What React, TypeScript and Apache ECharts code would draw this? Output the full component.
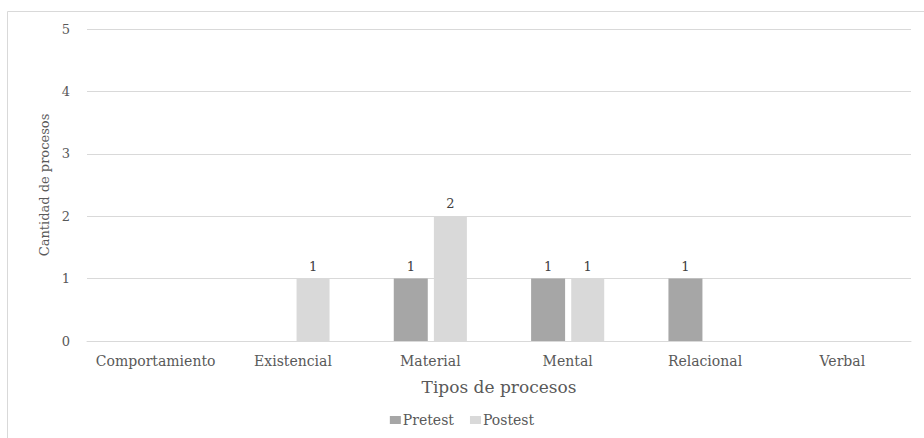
import React, { useEffect, useRef } from "react";
import * as echarts from "echarts";

const categories = ["Comportamiento", "Existencial", "Material", "Mental", "Relacional", "Verbal"];
const pretest = [null, null, 1, 1, 1, null];
const postest = [null, 1, 2, 1, null, null];
const yTicks = [0, 1, 2, 3, 4, 5];

export default function App() {
  const ref = useRef<HTMLDivElement>(null);
  useEffect(() => {
    const chart = echarts.init(ref.current!, null, { renderer: "svg" });
    const font = "'DejaVu Serif', serif";
    chart.setOption({
      animation: false,
      textStyle: { fontFamily: font },
      graphic: [
        {
          type: "rect",
          shape: { x: 7.5, y: 11.5, width: 930, height: 440 },
          style: { fill: "none", stroke: "#d9d9d9", lineWidth: 1 },
          silent: true,
        },
      ],
      grid: { left: 87, right: 13, top: 29, bottom: 97 },
      legend: {
        bottom: 6,
        left: "center",
        itemWidth: 11,
        itemHeight: 8,
        itemGap: 16,
        icon: "rect",
        textStyle: { fontFamily: font, fontSize: 14, color: "#595959", padding: [0, 0, 0, -3] },
        data: ["Pretest", "Postest"],
      },
      xAxis: {
        type: "category",
        data: categories,
        name: "Tipos de procesos",
        nameLocation: "middle",
        nameGap: 37,
        nameTextStyle: { fontFamily: font, fontSize: 17, color: "#595959" },
        axisLine: { lineStyle: { color: "#d9d9d9" } },
        axisTick: { show: false },
        axisLabel: { fontFamily: font, fontSize: 14, color: "#595959", margin: 13, interval: 0 },
      },
      yAxis: {
        type: "value",
        min: 0,
        max: 5,
        interval: 1,
        name: "Cantidad de procesos",
        nameLocation: "middle",
        nameGap: 34,
        nameTextStyle: { fontFamily: font, fontSize: 13, color: "#595959" },
        axisLine: { show: false },
        axisTick: { show: false },
        splitLine: { lineStyle: { color: "#d9d9d9" } },
        axisLabel: {
          fontFamily: font,
          fontSize: 13,
          color: "#595959",
          margin: 17,
          formatter: (v: number) => (yTicks.includes(v) ? String(v) : ""),
        },
      },
      series: [
        {
          name: "Pretest",
          type: "bar",
          data: pretest,
          barWidth: 34,
          barGap: "18%",
          itemStyle: { color: "#a6a6a6" },
          label: { show: true, position: "top", distance: 6, fontFamily: font, fontSize: 13, color: "#404040" },
        },
        {
          name: "Postest",
          type: "bar",
          data: postest,
          barWidth: 33,
          itemStyle: { color: "#d9d9d9" },
          label: { show: true, position: "top", distance: 6, fontFamily: font, fontSize: 13, color: "#404040" },
        },
      ],
    });
    return () => chart.dispose();
  }, []);
  return (
    <div
      ref={ref}
      style={{ position: "fixed", left: 0, top: 0, width: 924, height: 438, background: "#fff" }}
    />
  );
}
